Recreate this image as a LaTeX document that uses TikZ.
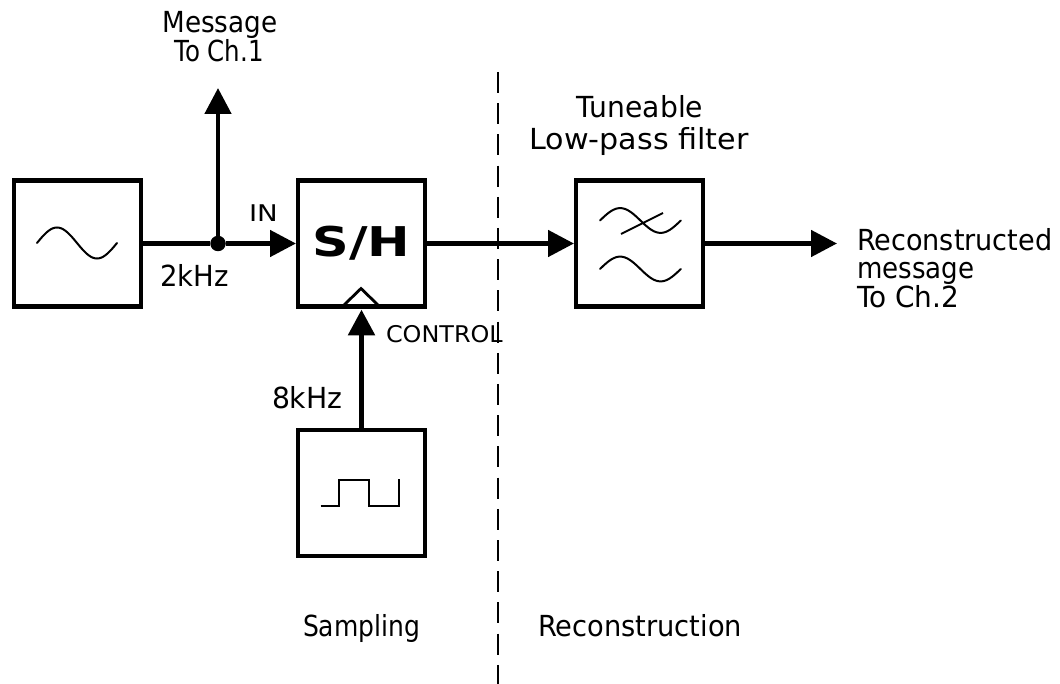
\documentclass[tikz,border=0pt]{standalone}
\usepackage{fontspec}
\setmainfont{DejaVu Sans}
\usetikzlibrary{arrows.meta}
\newfontfamily\boldlabel{DejaVu Sans}
\newcommand{\widened}[2]{\scalebox{#1}[1]{#2}}
\tikzset{
  blockbox/.style={draw=black,line width=4.2pt,fill=white,minimum width=127pt,minimum height=126pt,outer sep=0pt,inner sep=0pt,rectangle},
  wire/.style={line width=4.8pt,-{Triangle[length=26pt,width=26pt]}},
  plainwire/.style={line width=4.8pt},
  icon/.style={line width=2pt},
  sized/.style={font=\fontsize{#1}{#1}\selectfont},
  lbl/.style={inner sep=0pt,outer sep=0pt,anchor=base west,sized=29},
  sinewave/.pic={\draw[icon,line cap=round] plot[smooth,domain=0:360,samples=37] ({\x/360*80},{-15.5*sin(\x)});}
}
\begin{document}
\begin{tikzpicture}[x=1pt,y=-1pt]
\useasboundingbox (0,0) rectangle (1060,684);
\fill[white] (0,0) rectangle (1060,684);
% dashed divider
\coordinate (dashtop) at (498,72);
\coordinate (dashbot) at (498,684);
\draw[line width=2.2pt,dash pattern=on 21pt off 10.2pt] (dashtop) -- (dashbot);
% blocks
\node[blockbox,anchor=center] (src) at (77.5,243.5) {};
\node[blockbox,font=\boldlabel\bfseries\fontsize{41}{41}\selectfont] (sh) at (361.5,243.5) {\raisebox{-2pt}{\scalebox{1.24}[1]{S/H}}};
\node[blockbox] (lpf) at (639.5,243.5) {};
\node[blockbox] (pulse) at (361.5,493) {};
\node[circle,fill=black,minimum size=15.5pt,inner sep=0pt,outer sep=0pt] (jn) at (218,243.5) {};
\coordinate (msgtip) at (218,88);
\coordinate (outtip) at (837,243.5);
% connectors
\draw[plainwire] (src.east) -- (jn);
\draw[wire,shorten >=2pt] (jn) -- (sh.west);
\draw[wire] (jn) -- (msgtip);
\draw[wire,shorten >=2pt] (sh.east) -- (lpf.west);
\draw[wire] (lpf.east) -- (outtip);
\draw[wire,line width=5.8pt,shorten >=3pt] (pulse.north) -- (sh.south);
% clock wedge on S/H
\coordinate (wa) at (343,306);
\coordinate (wb) at (361,288.5);
\coordinate (wc) at (379,306);
\draw[line width=2.8pt,miter limit=10] (wa) -- (wb) -- (wc);
% icons
\pic at (37,243) {sinewave};
\pic[xscale=1.01,yscale=0.8] at (600,220.5) {sinewave};
\pic[xscale=1.01,yscale=0.8] at (600,269) {sinewave};
\coordinate (sa) at (621,234);
\coordinate (sb) at (663,213);
\draw[icon] (sa) -- (sb);
\draw[icon] (320.7,505.7) -- (339.3,505.7) -- (339.3,480) -- (369.3,480) -- (369.3,505.7) -- (398.7,505.7) -- (398.7,479.3);
% labels
\node[lbl,anchor=base] (t1) at (220,33) {\widened{0.905}{Message}};
\node[lbl,anchor=base] (t2) at (219,62) {\widened{0.845}{To Ch.1}};
\node[lbl,anchor=base] (t3) at (640,118) {\widened{0.972}{Tuneable}};
\node[lbl,anchor=base] (t4) at (639,150) {\widened{1.04}{Low-pass filter}};
\node[lbl] (t5) at (857,251) {\widened{0.934}{Reconstructed}};
\node[lbl] (t6) at (857,279) {\widened{0.9}{message}};
\node[lbl] (t7) at (857,308) {\widened{0.963}{To Ch.2}};
\node[lbl,sized=23] (t8) at (249,222) {\widened{1.2}{IN}};
\node[lbl] (t9) at (160,287) {\widened{0.948}{2kHz}};
\node[lbl] (t10) at (272,408) {\widened{0.974}{8kHz}};
\node[lbl,sized=23] (t11) at (386,343) {\widened{1.04}{CONTROL}};
\node[lbl] (t12) at (303,636) {\widened{0.862}{Sampling}};
\node[lbl] (t13) at (538,636) {\widened{0.94}{Reconstruction}};
\end{tikzpicture}
\end{document}
